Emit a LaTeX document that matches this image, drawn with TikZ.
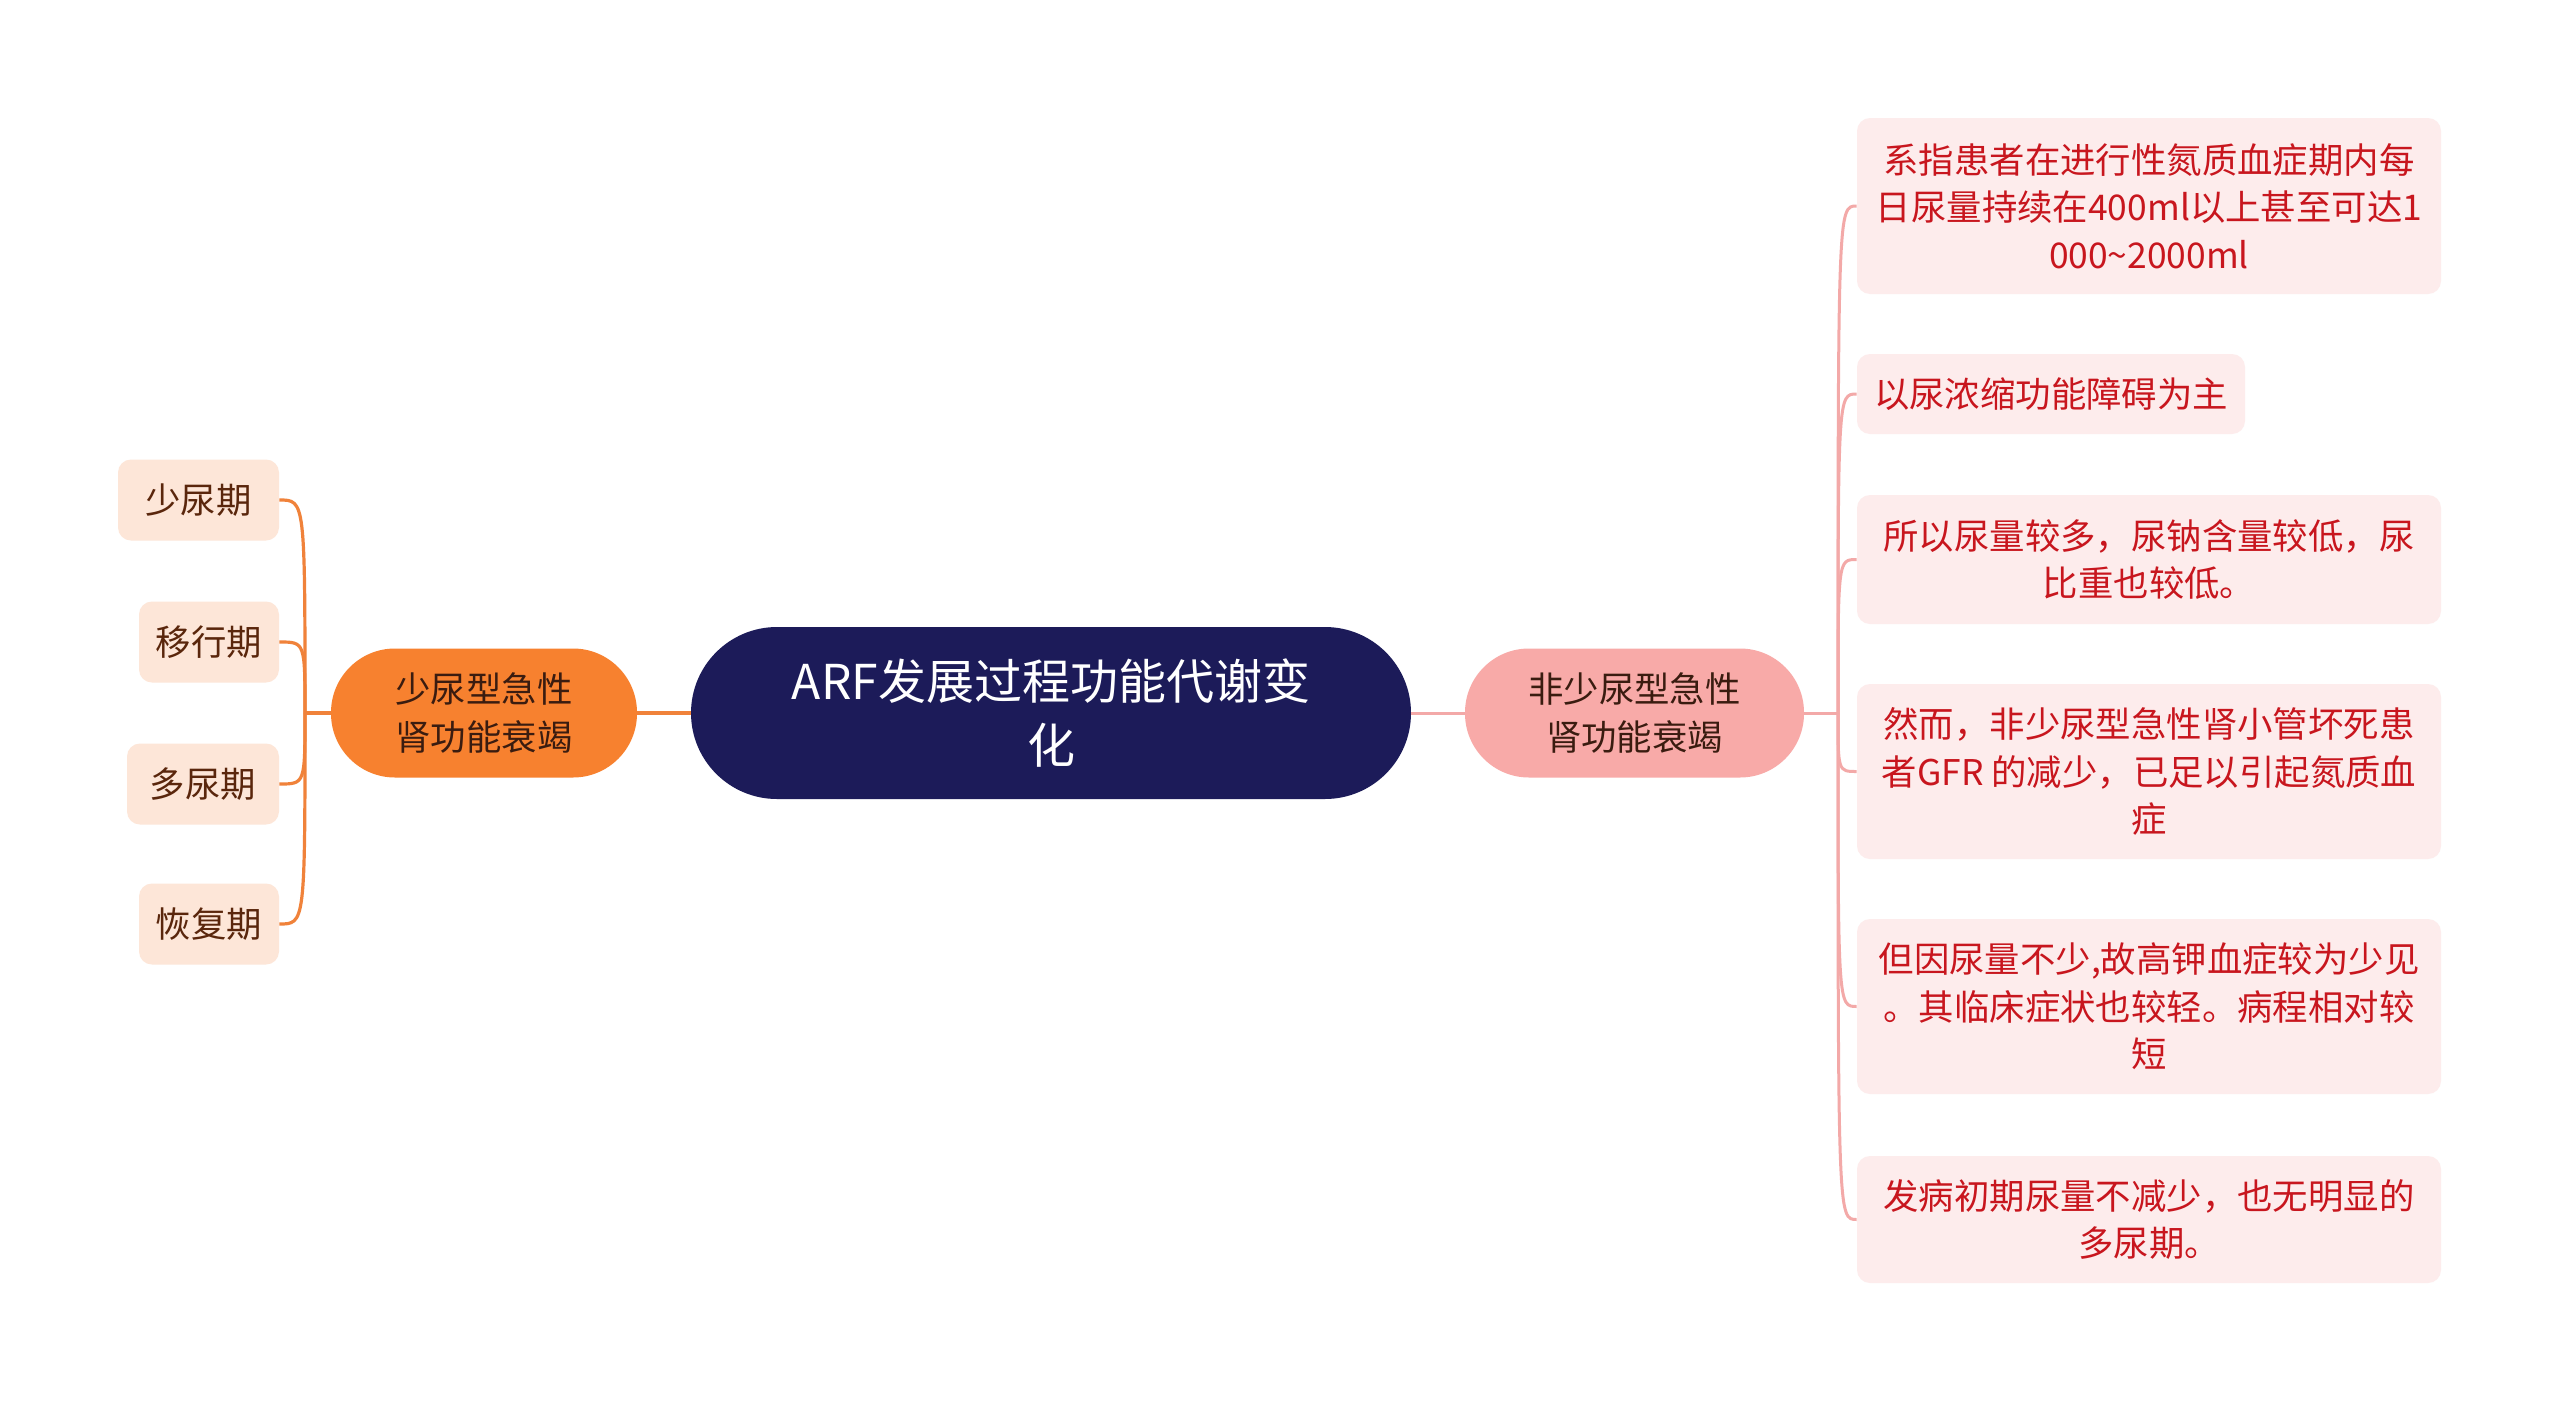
\documentclass[tikz,border=0pt]{standalone}
\usepackage{fontspec}
\setmainfont{Noto Sans CJK SC}
\definecolor{rootfill}{HTML}{1C1B59}
\definecolor{orgline}{HTML}{F0823A}
\definecolor{orgfill}{HTML}{F7812F}
\definecolor{orgleaf}{HTML}{FDE6D8}
\definecolor{orgtext}{HTML}{5A260C}
\definecolor{pinkline}{HTML}{F3A9A8}
\definecolor{pinkfill}{HTML}{F8AAA8}
\definecolor{pinkleaf}{HTML}{FDECEC}
\definecolor{redtext}{HTML}{C8161E}
\definecolor{darktext}{HTML}{3A1C10}
\begin{document}
\begin{tikzpicture}[x=0.5pt,y=-0.5pt,
    every node/.style={align=center,inner sep=0pt},
    txt/.style={font=\fontsize{17.7pt}{23.7pt}\selectfont},
    rootbox/.style={fill=rootfill,text=white,rounded corners=43pt,
      minimum width=360pt,minimum height=86pt,font=\fontsize{24pt}{32pt}\selectfont},
    mainL/.style={txt,fill=orgfill,text=darktext,rounded corners=32pt,
      minimum width=153pt,minimum height=64.5pt},
    mainR/.style={txt,fill=pinkfill,text=darktext,rounded corners=32pt,
      minimum width=169.5pt,minimum height=64.5pt},
    leafL/.style={txt,fill=orgleaf,text=orgtext,rounded corners=6.5pt,minimum height=40.5pt},
    leafR/.style={txt,fill=pinkleaf,text=redtext,rounded corners=6.5pt},
    lineL/.style={orgline,line width=1.6pt},
    lineR/.style={pinkline,line width=1.5pt}]
  \useasboundingbox[fill=white] (0,0) rectangle (2560,1403);

  \node[rootbox] (root) at (1051,713) {ARF发展过程功能代谢变\\化};
  \node[mainL] (oli) at (484,713) {少尿型急性\\肾功能衰竭};
  \node[mainR] (noli) at (1634.5,713) {非少尿型急性\\肾功能衰竭};

  \node[leafL,minimum width=80.5pt] (l1) at (198.5,500) {少尿期};
  \node[leafL,minimum width=70pt] (l2) at (209,642) {移行期};
  \node[leafL,minimum width=76pt] (l3) at (203,784) {多尿期};
  \node[leafL,minimum width=70pt] (l4) at (209,924) {恢复期};

  \node[leafR,minimum width=292pt,minimum height=88pt] (r1) at (2149,206)
    {系指患者在进行性氮质血症期内每\\日尿量持续在400ml以上甚至可达1\\000\textasciitilde2000ml};
  \node[leafR,minimum width=194pt,minimum height=40pt] (r2) at (2051,394)
    {以尿浓缩功能障碍为主};
  \node[leafR,minimum width=292pt,minimum height=64.5pt] (r3) at (2149,559.5)
    {所以尿量较多，尿钠含量较低，尿\\比重也较低。};
  \node[leafR,minimum width=292pt,minimum height=87.5pt] (r4) at (2149,771.5)
    {然而，非少尿型急性肾小管坏死患\\者GFR 的减少，已足以引起氮质血\\症};
  \node[leafR,minimum width=292pt,minimum height=87.5pt] (r5) at (2149,1006.5)
    {但因尿量不少,故高钾血症较为少见\\。其临床症状也较轻。病程相对较\\短};
  \node[leafR,minimum width=292pt,minimum height=63.5pt] (r6) at (2149,1219.5)
    {发病初期尿量不减少，也无明显的\\多尿期。};

  \coordinate (ltrunk) at (305,713);
  \coordinate (rtrunk) at (1838,713);

  \draw[lineL] (root.west) -- (oli.east);
  \draw[lineL] (oli.west) -- (ltrunk);
  \foreach \n in {l1,l2,l3,l4}
    \draw[lineL] (ltrunk) .. controls (ltrunk |- \n.east) and (ltrunk |- \n.east) .. (\n.east);

  \draw[lineR] (root.east) -- (noli.west);
  \draw[lineR] (noli.east) -- (rtrunk);
  \foreach \n in {r1,r2,r3,r4,r5,r6}
    \draw[lineR] (rtrunk) .. controls (rtrunk |- \n.west) and (rtrunk |- \n.west) .. (\n.west);
\end{tikzpicture}
\end{document}
